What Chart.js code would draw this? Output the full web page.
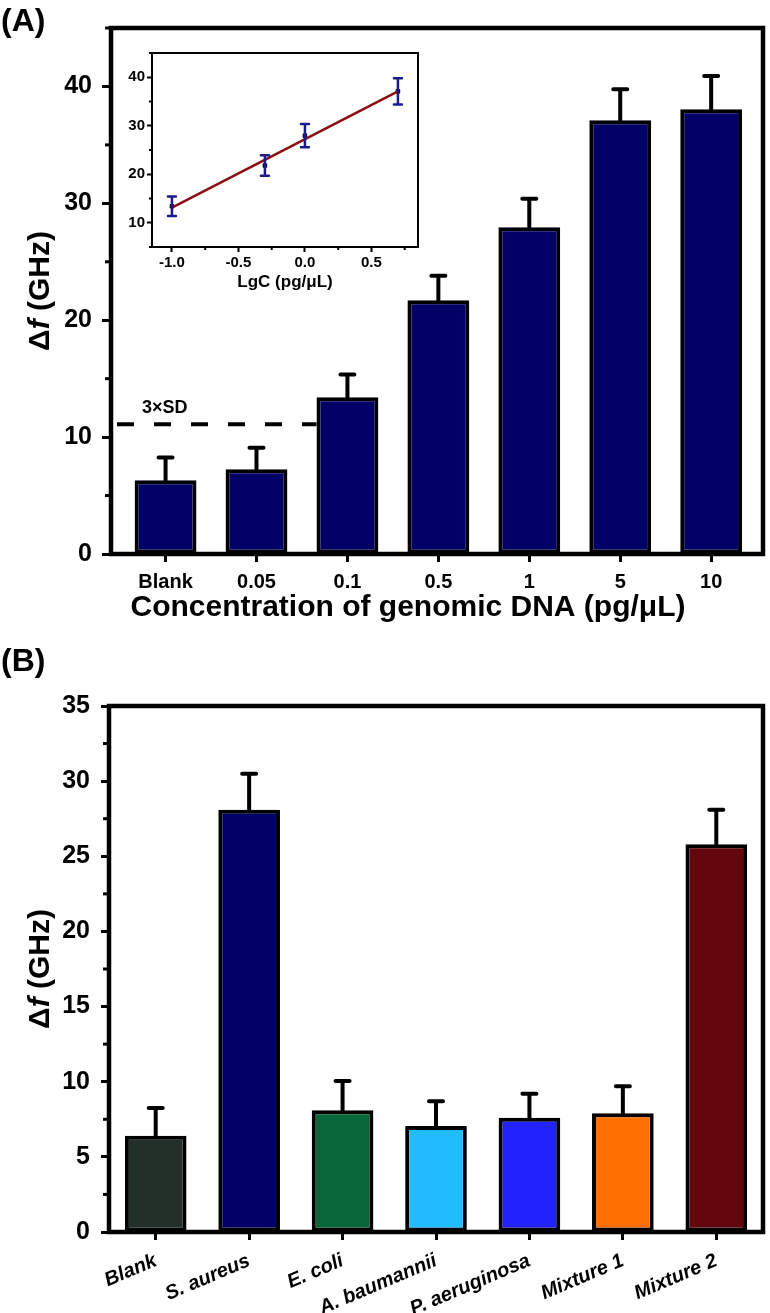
<!DOCTYPE html>
<html>
<head>
<meta charset="utf-8">
<title>Genomic DNA detection</title>
<script src="https://cdn.jsdelivr.net/npm/chart.js@4.4.0/dist/chart.umd.min.js"></script>
<style>
  body { margin: 0; background: #fff; width: 770px; height: 1313px; position: relative; overflow: hidden;
         font-family: "Liberation Sans", Arial, sans-serif; }
  canvas { position: absolute; }
  .panel-label { position: absolute; left: 1px; font-weight: bold; font-size: 32px; line-height: 32px; }
</style>
</head>
<body>
<canvas id="chart-a" width="770" height="640" style="left:0;top:0"></canvas>
<canvas id="chart-inset" width="330" height="260" style="left:100px;top:40px"></canvas>
<canvas id="chart-b" width="770" height="673" style="left:0;top:640px"></canvas>
<div class="panel-label" style="top:4px">(A)</div>
<div class="panel-label" style="top:644px">(B)</div>
<script>
// Panel A: signal vs concentration of genomic DNA
const CONC_LABELS = ['Blank', '0.05', '0.1', '0.5', '1', '5', '10'];
const CONC_SIGNAL = [6.3, 7.25, 13.4, 21.7, 27.95, 37.1, 38.05];
const CONC_ERR = [1.95, 1.85, 1.95, 2.1, 2.45, 2.65, 2.85];
const CONC_Y_TICKS = [0, 10, 20, 30, 40];
const SD_THRESHOLD = 11.1;

// Inset: linear fit vs log concentration
const LOG_CONC = [-1.0, -0.301, 0.0, 0.699];
const LOG_SIGNAL = [13.4, 21.8, 27.95, 37.1];
const LOG_ERR = [2.0, 2.1, 2.4, 2.7];
const FIT_X = [-1.0, 0.699];
const FIT_Y = [13.1, 37.1];
const INSET_X_TICKS = [-1.0, -0.5, 0.0, 0.5];
const INSET_Y_TICKS = [10, 20, 30, 40];

// Panel B: selectivity against other strains
const STRAIN_LABELS = ['Blank', 'S. aureus', 'E. coli', 'A. baumannii', 'P. aeruginosa', 'Mixture 1', 'Mixture 2'];
const STRAIN_SIGNAL = [6.4, 28.1, 8.1, 7.05, 7.6, 7.9, 25.8];
const STRAIN_ERR = [1.85, 2.4, 1.95, 1.65, 1.6, 1.8, 2.3];
const STRAIN_COLORS = ['#233029', '#000066', '#07663a', '#22bbff', '#2222ff', '#ff7000', '#63050c'];
const STRAIN_Y_TICKS = [0, 5, 10, 15, 20, 25, 30, 35];

Chart.defaults.font.family = "'Liberation Sans', Arial, sans-serif";
Chart.defaults.font.weight = 'bold';
Chart.defaults.color = '#000';
Chart.defaults.animation = false;
Chart.defaults.plugins.legend.display = false;
Chart.defaults.plugins.tooltip.enabled = false;

// Box round the plot area
const framePlugin = {
    id: 'frame',
    afterDatasetsDraw(chart, args, opts) {
        const { ctx, chartArea: a } = chart;
        ctx.save();
        ctx.strokeStyle = '#000';
        ctx.lineWidth = opts.width || 4;
        ctx.strokeRect(a.left, a.top, a.right - a.left, a.bottom - a.top);
        ctx.restore();
    }
};

// Small ticks between the labelled ones
const minorTickPlugin = {
    id: 'minorTicks',
    afterDraw(chart, args, opts) {
        const { ctx, chartArea: a } = chart;
        (opts.axes || []).forEach(ax => {
            const scale = chart.scales[ax.id];
            const majors = scale.ticks.map(t => t.value);
            ctx.save();
            ctx.strokeStyle = '#000';
            ctx.lineWidth = ax.width;
            for (let v = ax.from; v <= scale.max + 1e-9; v += ax.step) {
                if (majors.some(m => Math.abs(m - v) < 1e-6)) continue;
                if (v < scale.min - 1e-9) continue;
                const p = scale.getPixelForValue(v);
                ctx.beginPath();
                if (scale.isHorizontal()) {
                    ctx.moveTo(p, a.bottom);
                    ctx.lineTo(p, a.bottom + ax.length);
                } else {
                    ctx.moveTo(a.left, p);
                    ctx.lineTo(a.left - ax.length, p);
                }
                ctx.stroke();
            }
            ctx.restore();
        });
    }
};

// Error bars taken from dataset.errorBars
const errorBarPlugin = {
    id: 'errorBars',
    afterDatasetsDraw(chart, args, opts) {
        const { ctx } = chart;
        const yScale = chart.scales.y;
        chart.data.datasets.forEach((ds, di) => {
            if (!ds.errorBars) return;
            const meta = chart.getDatasetMeta(di);
            meta.data.forEach((el, i) => {
                const raw = ds.data[i];
                const value = typeof raw === 'object' ? raw.y : raw;
                const err = ds.errorBars[i];
                const yTop = yScale.getPixelForValue(value + err);
                const yBot = opts.both ? yScale.getPixelForValue(value - err) : el.y;
                ctx.save();
                ctx.strokeStyle = opts.color || '#000';
                ctx.lineWidth = opts.width || 4;
                ctx.lineCap = 'round';
                ctx.beginPath();
                ctx.moveTo(el.x, yBot);
                ctx.lineTo(el.x, yTop);
                ctx.moveTo(el.x - opts.cap, yTop);
                ctx.lineTo(el.x + opts.cap, yTop);
                if (opts.both) {
                    ctx.moveTo(el.x - opts.cap, yBot);
                    ctx.lineTo(el.x + opts.cap, yBot);
                }
                ctx.stroke();
                ctx.restore();
            });
        });
    }
};

// Rotated y title "Δf (GHz)" with an italic f
const yTitlePlugin = {
    id: 'yTitle',
    afterDraw(chart, args, opts) {
        const { ctx, chartArea: a } = chart;
        const parts = [
            ['Δ', 'bold 30px "Liberation Sans", Arial'],
            ['f', 'italic bold 30px "Liberation Sans", Arial'],
            [' (GHz)', 'bold 30px "Liberation Sans", Arial']
        ];
        ctx.save();
        ctx.translate(opts.x, (a.top + a.bottom) / 2);
        ctx.rotate(-Math.PI / 2);
        ctx.fillStyle = '#000';
        ctx.textBaseline = 'middle';
        ctx.textAlign = 'left';
        let total = 0;
        parts.forEach(([t, f]) => { ctx.font = f; total += ctx.measureText(t).width; });
        let x = -total / 2;
        parts.forEach(([t, f]) => {
            ctx.font = f;
            ctx.fillText(t, x, 0);
            x += ctx.measureText(t).width;
        });
        ctx.restore();
    }
};

// x title drawn by hand: it sits a little left of the plot centre in the original
const xTitlePlugin = {
    id: 'xTitle',
    afterDraw(chart, args, opts) {
        const { ctx, chartArea: a } = chart;
        ctx.save();
        ctx.font = 'bold 30px "Liberation Sans", Arial';
        ctx.fillStyle = '#000';
        ctx.textAlign = 'center';
        ctx.textBaseline = 'middle';
        ctx.fillText(opts.text, a.left + opts.dx, a.bottom + opts.dy);
        ctx.restore();
    }
};

// Dashed 3xSD line ending at the first bar above it
const sdLinePlugin = {
    id: 'sdLine',
    afterDatasetsDraw(chart) {
        const { ctx, chartArea: a } = chart;
        const y = chart.scales.y.getPixelForValue(SD_THRESHOLD);
        const bars = chart.getDatasetMeta(0).data;
        const idx = CONC_SIGNAL.findIndex(v => v > SD_THRESHOLD);
        const xEnd = bars[idx].x - bars[idx].width / 2;
        ctx.save();
        ctx.strokeStyle = '#000';
        ctx.lineWidth = 4;
        ctx.setLineDash([17, 20]);
        ctx.beginPath();
        ctx.moveTo(a.left + 6, y);
        ctx.lineTo(xEnd, y);
        ctx.stroke();
        ctx.setLineDash([]);
        ctx.font = 'bold 18px "Liberation Sans", Arial';
        ctx.fillStyle = '#000';
        ctx.textBaseline = 'middle';
        ctx.fillText('3×SD', a.left + 31, y - 16);
        ctx.restore();
    }
};

const tickGrid = (len, width) => ({
    display: true, drawOnChartArea: false, drawTicks: true,
    tickLength: len, tickWidth: width, tickColor: '#000', offset: false
});

// ---- Panel A ----
new Chart(document.getElementById('chart-a'), {
    type: 'bar',
    data: {
        datasets: [{
            data: CONC_SIGNAL.map((v, i) => ({ x: i + 1, y: v })),
            backgroundColor: '#000066',
            borderColor: '#000',
            borderWidth: 4,
            borderSkipped: false,
            barPercentage: 0.68,
            categoryPercentage: 1,
            errorBars: CONC_ERR
        }]
    },
    options: {
        responsive: false,
        layout: { padding: { top: 28, right: 7, left: 0, bottom: 0 } },
        scales: {
            x: {
                type: 'linear', min: 0.4, max: 7.57, offset: false,
                afterBuildTicks: s => { s.ticks = CONC_LABELS.map((_, i) => ({ value: i + 1 })); },
                afterFit: s => { s.height = 86; },
                border: { display: false },
                grid: tickGrid(8, 3),
                ticks: { autoSkip: false, maxRotation: 0, padding: 8, font: { size: 20 },
                         callback: (v, i) => CONC_LABELS[i] }
            },
            y: {
                min: 0, max: 45,
                afterBuildTicks: s => { s.ticks = CONC_Y_TICKS.map(v => ({ value: v })); },
                afterFit: s => { s.width = 111; },
                border: { display: false },
                grid: tickGrid(9, 3),
                ticks: { padding: 10, font: { size: 25 } }
            }
        },
        plugins: {
            frame: { width: 4.5 },
            minorTicks: { axes: [{ id: 'y', from: 5, step: 10, length: 6, width: 3 }] },
            errorBars: { cap: 7, width: 4, color: '#000' },
            yTitle: { x: 41 },
            xTitle: { text: 'Concentration of genomic DNA (pg/μL)', dx: 297, dy: 54 }
        }
    },
    plugins: [framePlugin, minorTickPlugin, errorBarPlugin, yTitlePlugin, xTitlePlugin, sdLinePlugin]
});

// ---- Inset ----
new Chart(document.getElementById('chart-inset'), {
    type: 'scatter',
    data: {
        datasets: [{
            type: 'line',
            data: FIT_X.map((x, i) => ({ x, y: FIT_Y[i] })),
            borderColor: '#8b0f0f',
            borderWidth: 2.5,
            pointRadius: 0,
            fill: false
        }, {
            type: 'scatter',
            data: LOG_CONC.map((x, i) => ({ x, y: LOG_SIGNAL[i] })),
            pointStyle: 'rect',
            pointRadius: 2.5,
            backgroundColor: '#000',
            borderColor: '#000',
            errorBars: LOG_ERR
        }]
    },
    options: {
        responsive: false,
        layout: { padding: { top: 13, right: 12, left: 0, bottom: 0 } },
        scales: {
            x: {
                type: 'linear', min: -1.15, max: 0.85,
                afterBuildTicks: s => { s.ticks = INSET_X_TICKS.map(v => ({ value: v })); },
                afterFit: s => { s.height = 53; },
                border: { display: false },
                grid: tickGrid(5, 2),
                ticks: { padding: 2, font: { size: 15 }, callback: v => v.toFixed(1) },
                title: { display: true, text: 'LgC (pg/μL)', font: { size: 17, weight: 'bold' },
                         padding: { top: 0, bottom: 7 } }
            },
            y: {
                min: 5, max: 45,
                afterBuildTicks: s => { s.ticks = INSET_Y_TICKS.map(v => ({ value: v })); },
                afterFit: s => { s.width = 52; },
                border: { display: false },
                grid: tickGrid(5, 2),
                ticks: { padding: 2, font: { size: 15 } }
            }
        },
        plugins: {
            frame: { width: 2 },
            minorTicks: { axes: [
                { id: 'y', from: 5, step: 5, length: 3, width: 2 },
                { id: 'x', from: -1.0, step: 0.25, length: 3, width: 2 }
            ] },
            errorBars: { cap: 4, width: 2.5, color: '#1a1a8c', both: true }
        }
    },
    plugins: [framePlugin, minorTickPlugin, errorBarPlugin]
});

// ---- Panel B ----
new Chart(document.getElementById('chart-b'), {
    type: 'bar',
    data: {
        labels: STRAIN_LABELS,
        datasets: [{
            data: STRAIN_SIGNAL,
            backgroundColor: STRAIN_COLORS,
            borderColor: '#000',
            borderWidth: 4,
            borderSkipped: false,
            barPercentage: 0.66,
            categoryPercentage: 1,
            errorBars: STRAIN_ERR
        }]
    },
    options: {
        responsive: false,
        layout: { padding: { top: 66, right: 7, left: 0, bottom: 0 } },
        scales: {
            x: {
                afterFit: s => { s.height = 81; },
                border: { display: false },
                grid: tickGrid(8, 3),
                ticks: { autoSkip: false, minRotation: 23, maxRotation: 23, padding: 9,
                         font: { size: 20, style: 'italic', weight: 'bold' } }
            },
            y: {
                min: 0, max: 35,
                afterBuildTicks: s => { s.ticks = STRAIN_Y_TICKS.map(v => ({ value: v })); },
                afterFit: s => { s.width = 109; },
                border: { display: false },
                grid: tickGrid(8, 3),
                ticks: { padding: 11, font: { size: 25 } }
            }
        },
        plugins: {
            frame: { width: 4.5 },
            minorTicks: { axes: [{ id: 'y', from: 2.5, step: 5, length: 6, width: 3 }] },
            errorBars: { cap: 7, width: 4, color: '#000' },
            yTitle: { x: 41 }
        }
    },
    plugins: [framePlugin, minorTickPlugin, errorBarPlugin, yTitlePlugin]
});
</script>
</body>
</html>
